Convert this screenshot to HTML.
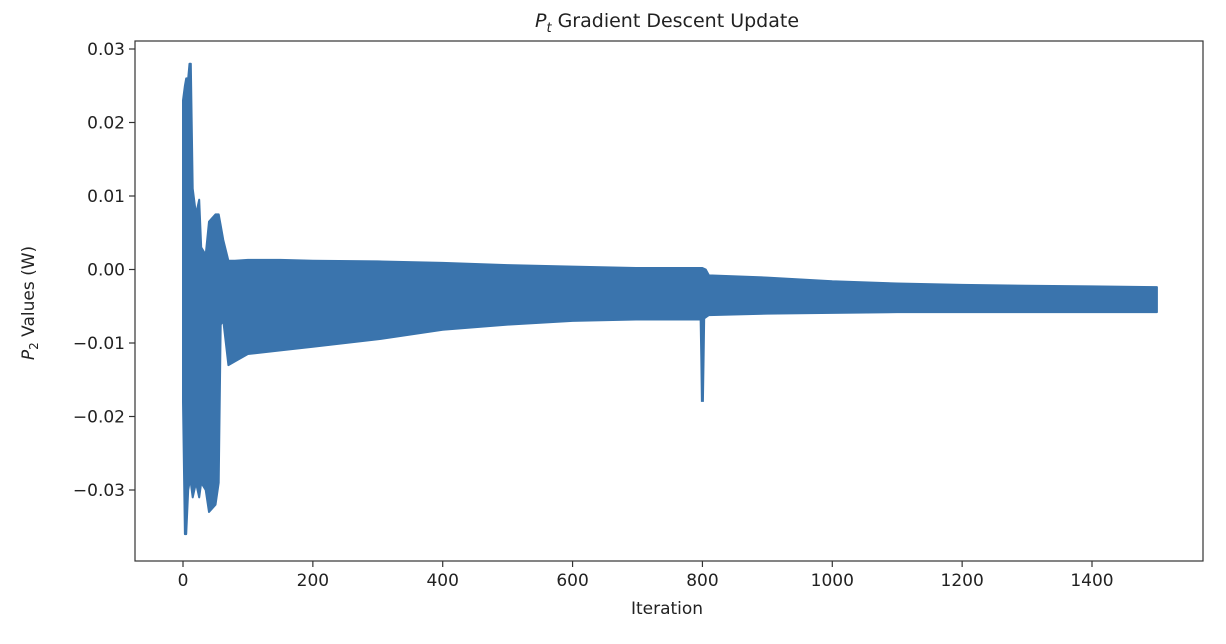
<!DOCTYPE html>
<html><head><meta charset="utf-8"><style>
body{margin:0;background:#fff;}
svg{display:block;font-family:"DejaVu Sans","Liberation Sans",sans-serif;}
</style></head><body>
<svg id="chart" width="1226" height="644">
<text x="667" y="27" font-size="19" text-anchor="middle" fill="#222"><tspan font-style="italic">P</tspan><tspan font-style="italic" font-size="13" dy="5">t</tspan><tspan dy="-5"> Gradient Descent Update</tspan></text>
<g id="plot"></g>
<text x="667" y="614" font-size="17" text-anchor="middle" fill="#222">Iteration</text>
<text transform="translate(34,303) rotate(-90)" font-size="17" text-anchor="middle" fill="#222"><tspan font-style="italic">P</tspan><tspan font-size="12" dy="4">2</tspan><tspan dy="-4"> Values (W)</tspan></text>
</svg>
<script>
const iters=[0,3,5,8,10,12,15,20,25,28,35,40,50,55,58,62,70,80,100,150,200,300,400,500,600,700,800,805,810,900,1000,1100,1200,1300,1400,1500];
const upper=[0.023,0.025,0.026,0.026,0.028,0.028,0.011,0.0075,0.0095,0.003,0.002,0.0065,0.0075,0.0075,0.006,0.004,0.0012,0.0012,0.0013,0.0013,0.0012,0.0011,0.0009,0.0006,0.0004,0.0002,0.0002,0.0,-0.0008,-0.0011,-0.0016,-0.0019,-0.0021,-0.0022,-0.0023,-0.0024];
const lower=[-0.018,-0.036,-0.036,-0.030,-0.029,-0.029,-0.031,-0.029,-0.031,-0.029,-0.030,-0.033,-0.032,-0.029,-0.0075,-0.007,-0.013,-0.0125,-0.0115,-0.011,-0.0105,-0.0095,-0.0082,-0.0075,-0.0070,-0.0068,-0.0068,-0.0065,-0.0062,-0.0060,-0.0059,-0.0058,-0.0058,-0.0058,-0.0058,-0.0058];
const spikeIter=[798,799,800,801,802];
const spikeVal=[-0.0065,-0.012,-0.018,-0.012,-0.0065];
const xTicks=[0,200,400,600,800,1000,1200,1400];
const yTicks=[0.03,0.02,0.01,0.00,-0.01,-0.02,-0.03];
const yLabels=["0.03","0.02","0.01","0.00","\u22120.01","\u22120.02","\u22120.03"];

const L=135,R=1203,T=41,B=561;
const X=v=>183+v*(1092-183)/1400;
const Y=v=>269.5-v*(269.5-49)/0.03;
const NS="http://www.w3.org/2000/svg";
const g=document.getElementById('plot');
function mk(tag,attrs){const e=document.createElementNS(NS,tag);for(const k in attrs)e.setAttribute(k,attrs[k]);g.appendChild(e);return e;}

let pts=[];
for(let i=0;i<iters.length;i++)pts.push(X(iters[i]).toFixed(1)+','+Y(upper[i]).toFixed(1));
for(let i=iters.length-1;i>=0;i--)pts.push(X(iters[i]).toFixed(1)+','+Y(lower[i]).toFixed(1));
const band=mk('polygon',{points:pts.join(' '),fill:'#3a74ad',stroke:'#3a74ad','stroke-width':2,'stroke-linejoin':'round'});



const sp=mk('polyline',{points:spikeIter.map((v,i)=>X(v).toFixed(1)+','+Y(spikeVal[i]).toFixed(1)).join(' '),fill:'none',stroke:'#3a74ad','stroke-width':3});



const frame=mk('rect',{x:L,y:T,width:R-L,height:B-T,fill:'none',stroke:'#333','stroke-width':1.2});



xTicks.forEach(v=>{
  const t=mk('line',{x1:X(v),x2:X(v),y1:B,y2:B+6,stroke:'#333','stroke-width':1.2});
  
  
  const l=mk('text',{x:X(v),y:B+25,'font-size':17,'text-anchor':'middle',fill:'#222'});
  l.textContent=v;
  
  
});
yTicks.forEach((v,i)=>{
  const t=mk('line',{x1:L-6,x2:L,y1:Y(v),y2:Y(v),stroke:'#333','stroke-width':1.2});
  
  
  const l=mk('text',{x:L-10,y:Y(v)+6,'font-size':17,'text-anchor':'end',fill:'#222'});
  l.textContent=yLabels[i];
  
  
});
</script>
</body></html>
